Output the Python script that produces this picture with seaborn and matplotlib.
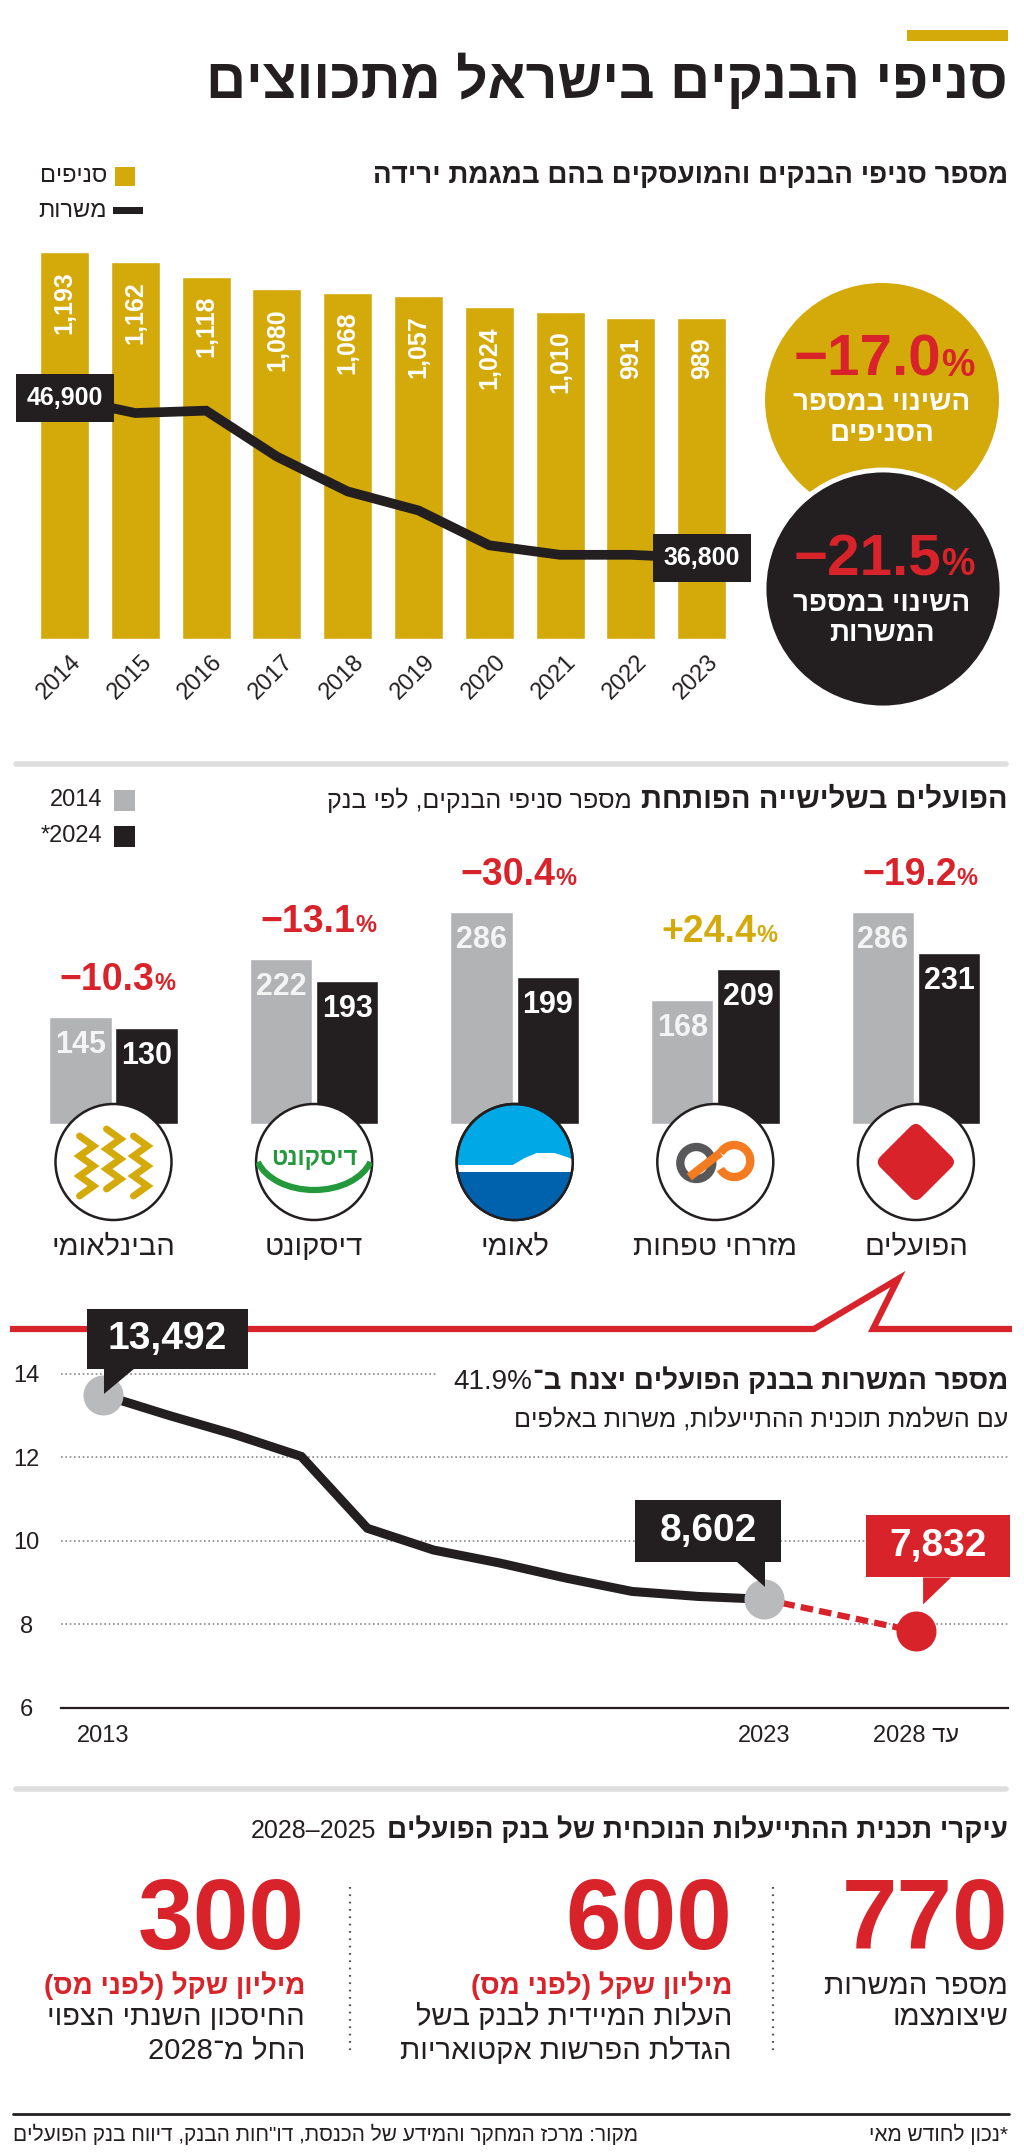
"""Bank branches in Israel are shrinking - infographic rebuilt with seaborn."""

import re

import matplotlib

matplotlib.use("Agg")
import matplotlib.pyplot as plt
import matplotlib.transforms as mtransforms
import numpy as np
import pandas as pd
import seaborn as sns
from matplotlib.offsetbox import AnnotationBbox, HPacker, TextArea
from matplotlib.patches import Arc, Circle, FancyBboxPatch, Polygon, Rectangle

W, H = 1024, 2155

# ---------------------------------------------------------------- data
YEARS = [2014, 2015, 2016, 2017, 2018, 2019, 2020, 2021, 2022, 2023]
BRANCHES = [1193, 1162, 1118, 1080, 1068, 1057, 1024, 1010, 991, 989]
EMPLOYEES = [46900, 45950, 46100, 43200, 41000, 39800, 37600, 37000, 37000, 36800]
BRANCH_CHANGE = "−17.0"
EMPLOYEE_CHANGE = "−21.5"

BANKS = ["הבינלאומי", "דיסקונט", "לאומי", "מזרחי טפחות", "הפועלים"]
BRANCHES_2014 = [145, 222, 286, 168, 286]
BRANCHES_2024 = [130, 193, 199, 209, 231]

POALIM_YEARS = [2013, 2014, 2015, 2016, 2017, 2018, 2019, 2020, 2021, 2022, 2023]
POALIM_STAFF = [13.492, 13.0, 12.54, 12.02, 10.30, 9.78, 9.47, 9.11, 8.79, 8.67, 8.602]
POALIM_TARGET = 7.832
TARGET_POS = 2025.3  # "until 2028" sits on a compressed stretch of the axis
POALIM_DROP = "41.9%"

PLAN_NUMBERS = ["770", "600", "300"]
PLAN_UNITS = ["", "מיליון שקל (לפני מס)", "מיליון שקל (לפני מס)"]
PLAN_TEXT = [
    ["מספר המשרות", "שיצומצמו"],
    ["העלות המיידית לבנק בשל", "הגדלת הפרשות אקטואריות"],
    ["החיסכון השנתי הצפוי", "החל מ־2028"],
]

# ---------------------------------------------------------------- style
GOLD = "#d4a90a"
BLACK = "#231f20"
RED = "#d8232a"
GRAY_BAR = "#b2b3b5"
GRAY_DOT = "#b9babc"
RULE = "#dedede"

sns.set_theme(style="white")
HEB = ["Liberation Sans", "DejaVu Sans"]
NUM = ["Liberation Sans Narrow", "Liberation Sans", "DejaVu Sans"]
plt.rcParams["font.family"] = HEB

LTR = re.compile(r"[0-9.,%]+")


def rtl(text):
    """Visual order for right-to-left text (matplotlib has no bidi)."""
    flipped = LTR.sub(lambda m: m.group(0)[::-1], text[::-1])
    return flipped.translate(str.maketrans("()", ")("))


fig = plt.figure(figsize=(W / 100, H / 100), dpi=100)
page = fig.add_axes([0, 0, 1, 1], zorder=5)
page.set_xlim(0, W)
page.set_ylim(H, 0)
page.axis("off")


def box(left, top, right, bottom):
    return [left / W, 1 - bottom / H, (right - left) / W, (bottom - top) / H]


def to_page(ax, x, y):
    px, py = ax.transData.transform((x, y))
    return px, H - py


def say(x, y, s, size, weight="normal", color=BLACK, ha="right", va="center", family=HEB, **kw):
    return page.text(x, y, s, fontsize=size, fontweight=weight, color=color,
                     ha=ha, va=va, family=family, zorder=6, **kw)


def pieces(x, y, parts, align=(1.0, 0.5), sep=0):
    kids = [TextArea(s, textprops=dict(fontsize=size, fontweight=weight, color=color, family=family))
            for s, size, weight, color, family in parts]
    pack = HPacker(children=kids, align="baseline", pad=0, sep=sep)
    page.add_artist(AnnotationBbox(pack, (x, y), xycoords="data", frameon=False,
                                   box_alignment=align, pad=0, zorder=6))


def rule(y):
    page.plot([16, 1006], [y, y], color=RULE, lw=4, solid_capstyle="round", zorder=1)


# ---------------------------------------------------------------- header
page.add_patch(Rectangle((907, 30), 101, 11, fc=GOLD, ec="none"))
say(1008, 82, rtl("סניפי הבנקים בישראל מתכווצים"), 40, "bold")

say(1008, 176, rtl("מספר סניפי הבנקים והמועסקים בהם במגמת ירידה"), 20, "bold")
page.add_patch(Rectangle((115, 167), 20, 19, fc=GOLD, ec="none"))
say(107, 176, rtl("סניפים"), 17)
page.add_patch(Rectangle((113, 207), 30, 7, fc=BLACK, ec="none"))
say(107, 211, rtl("משרות"), 17)

# ---------------------------------------------------------------- branches + employees
ax1 = fig.add_axes(box(29.1, 240, 737.1, 639))
df_branches = pd.DataFrame({"year": YEARS, "branches": BRANCHES, "employees": EMPLOYEES})
sns.barplot(data=df_branches, x="year", y="branches", color=GOLD, saturation=1, width=0.69, ax=ax1)
ax1.set_xlim(-0.5, len(YEARS) - 0.5)
ax1.set_ylim(0, 1231)
ax1.axis("off")

value_tf = mtransforms.offset_copy(ax1.transData, fig=fig, y=-19, units="dots")
year_tf = mtransforms.offset_copy(ax1.transData, fig=fig, x=13, y=-20, units="dots")
for i, (year, value) in enumerate(zip(YEARS, BRANCHES)):
    ax1.text(i, value, f"{value:,}", transform=value_tf, rotation=90, ha="center", va="top",
             color="white", fontsize=18, fontweight="bold", family=NUM)
    ax1.text(i, 0, str(year), transform=year_tf, rotation=45, rotation_mode="anchor",
             ha="right", va="center", fontsize=17, family=NUM, color=BLACK, clip_on=False)

ax1b = ax1.twinx()
sns.lineplot(x=np.arange(len(YEARS)), y=df_branches["employees"], color=BLACK, lw=7,
             solid_joinstyle="miter", ax=ax1b)
ax1b.set_xlim(-0.5, len(YEARS) - 0.5)
ax1b.set_ylim(31685, 56874)
ax1b.axis("off")

for i in (0, len(YEARS) - 1):
    px, py = to_page(ax1b, i, EMPLOYEES[i])
    page.add_patch(Rectangle((px - 49, py - 24), 98, 48, fc=BLACK, ec="none", zorder=4))
    say(px, py, f"{EMPLOYEES[i]:,}", 18, "bold", "white", ha="center", family=NUM)

page.add_patch(Circle((882, 400), 117, fc=GOLD, ec="none", zorder=2))
page.add_patch(Circle((883, 589), 119, fc=BLACK, ec="white", lw=3.5, zorder=3))
pieces(884, 361, [(BRANCH_CHANGE, 42, "bold", RED, NUM), ("%", 27, "bold", RED, NUM)], align=(0.5, 0.5))
say(882, 403, rtl("השינוי במספר"), 20, "bold", "white", ha="center")
say(882, 434, rtl("הסניפים"), 20, "bold", "white", ha="center")
pieces(884, 560, [(EMPLOYEE_CHANGE, 42, "bold", RED, NUM), ("%", 27, "bold", RED, NUM)], align=(0.5, 0.5))
say(882, 604, rtl("השינוי במספר"), 20, "bold", "white", ha="center")
say(882, 634, rtl("המשרות"), 20, "bold", "white", ha="center")

rule(764)

# ---------------------------------------------------------------- branches per bank
pieces(1008, 800, [(rtl("מספר סניפי הבנקים, לפי בנק"), 18, "normal", BLACK, HEB),
                   (rtl("הפועלים בשלישייה הפותחת"), 21, "bold", BLACK, HEB)], sep=7)
page.add_patch(Rectangle((114, 790), 21, 21, fc=GRAY_BAR, ec="none"))
say(102, 800, "2014", 17, family=NUM)
page.add_patch(Rectangle((114, 826), 21, 21, fc=BLACK, ec="none"))
say(102, 836, "*2024", 17, family=NUM)

ax2 = fig.add_axes(box(13.2, 840, 1016.2, 1124))
df_banks = pd.DataFrame({
    "bank": BANKS * 2,
    "year": ["2014"] * len(BANKS) + ["2024"] * len(BANKS),
    "branches": BRANCHES_2014 + BRANCHES_2024,
})
sns.barplot(data=df_banks, x="bank", y="branches", hue="year", hue_order=["2014", "2024"],
            palette=[GRAY_BAR, BLACK], saturation=1, width=0.66, gap=0.06, legend=False, ax=ax2)
ax2.set_xlim(-0.5, len(BANKS) - 0.5)
ax2.set_ylim(0, 284 / 0.741)
ax2.axis("off")

label_tf = mtransforms.offset_copy(ax2.transData, fig=fig, y=-28, units="dots")
for container, values, color in zip(ax2.containers, (BRANCHES_2014, BRANCHES_2024), ("#f4f4f4", "white")):
    for bar, value in zip(container, values):
        ax2.text(bar.get_x() + bar.get_width() / 2, value, str(value), transform=label_tf,
                 ha="center", va="center", color=color, fontsize=22, fontweight="bold", family=NUM)

for i, (old, new) in enumerate(zip(BRANCHES_2014, BRANCHES_2024)):
    change = (new - old) / old * 100
    text = f"{change:+.1f}".replace("-", "−")
    px, py = to_page(ax2, i, max(old, new))
    color = GOLD if change > 0 else RED
    pieces(px + 4, py - 37, [(text, 27, "bold", color, NUM), ("%", 17, "bold", color, NUM)], align=(0.5, 0.5))


def logo_ring(cx, cy, fc="white"):
    ring = Circle((cx, cy), 58, fc=fc, ec=BLACK, lw=1.8, zorder=3)
    page.add_patch(ring)
    return ring


def draw_binleumi(cx, cy):
    ring = logo_ring(cx, cy)
    for dx, dy in ((-27, 4), (0, -3), (27, 4)):
        xs = [cx + dx - 7, cx + dx + 7] * 3 + [cx + dx - 7]
        ys = [cy + dy - 30 + 10 * k for k in range(7)]
        line, = page.plot(xs, ys, color=GOLD, lw=5, solid_joinstyle="miter", zorder=4)
        line.set_clip_path(ring)


def draw_discount(cx, cy):
    ring = logo_ring(cx, cy)
    say(cx, cy - 3, rtl("דיסקונט"), 17, "bold", "#23993b", ha="center")
    arc = Arc((cx, cy - 12), 118, 80, theta1=12, theta2=168, color="#23993b", lw=4.5, zorder=4)
    page.add_patch(arc)
    arc.set_clip_path(ring)


def draw_leumi(cx, cy):
    ring = logo_ring(cx, cy, fc="#00a9e6")
    sea = Rectangle((cx - 60, cy + 10), 120, 60, fc="#0061ad", ec="none", zorder=4)
    wave = Polygon([(cx - 60, cy + 3), (cx - 2, cy + 3), (cx + 10, cy - 4), (cx + 22, cy - 9),
                    (cx + 40, cy - 9), (cx + 55, cy - 4), (cx + 62, cy), (cx + 62, cy + 10),
                    (cx - 60, cy + 10)], fc="white", ec="none", zorder=4)
    for patch in (sea, wave):
        page.add_patch(patch)
        patch.set_clip_path(ring)
    page.add_patch(Circle((cx, cy), 58, fc="none", ec=BLACK, lw=1.8, zorder=5))


def draw_mizrahi(cx, cy):
    logo_ring(cx, cy)
    page.add_patch(Circle((cx - 19, cy + 1), 16, fc="none", ec="#58585a", lw=6, zorder=4))
    page.add_patch(Arc((cx + 19, cy - 1), 32, 32, theta1=-150, theta2=150, ec="#f47b20", lw=6, zorder=5))
    page.plot([cx - 26, cx + 5], [cy + 15, cy - 9], color="#f47b20", lw=6, solid_capstyle="butt", zorder=5)


def draw_poalim(cx, cy):
    logo_ring(cx, cy)
    tf = mtransforms.Affine2D().rotate_deg(45).translate(cx, cy) + page.transData
    page.add_patch(FancyBboxPatch((-29, -29), 58, 58, boxstyle="round,pad=0,rounding_size=8",
                                  fc=RED, ec="none", zorder=4, transform=tf))


for i, (name, draw) in enumerate(zip(BANKS, (draw_binleumi, draw_discount, draw_leumi,
                                              draw_mizrahi, draw_poalim))):
    cx, _ = to_page(ax2, i, 0)
    draw(cx, 1162)
    say(cx, 1247, rtl(name), 21, ha="center")

# ---------------------------------------------------------------- Hapoalim staff
page.plot([10, 814, 898, 873, 1012], [1329, 1329, 1279, 1329, 1329], color=RED, lw=4.5,
          solid_joinstyle="miter", solid_capstyle="butt", zorder=1)

ax3 = fig.add_axes(box(61, 1311, 1008, 1708))
sns.lineplot(x=POALIM_YEARS, y=POALIM_STAFF, color=BLACK, lw=6.5, solid_joinstyle="miter", ax=ax3)
ax3.plot([POALIM_YEARS[-1], TARGET_POS], [POALIM_STAFF[-1], POALIM_TARGET], color=RED, lw=4.5,
         ls=(0, (2, 1)), zorder=3)
sns.scatterplot(x=[POALIM_YEARS[0], POALIM_YEARS[-1]], y=[POALIM_STAFF[0], POALIM_STAFF[-1]],
                s=830, color=GRAY_DOT, linewidth=0, zorder=4, ax=ax3)
sns.scatterplot(x=[TARGET_POS], y=[POALIM_TARGET], s=830, color=RED, linewidth=0, zorder=4, ax=ax3)
ax3.set_xlim(2012.365, 2026.69)
ax3.set_ylim(6, 15.5)
ax3.set_yticks([6, 8, 10, 12, 14])
ax3.set_yticklabels(["6", "8", "10", "12", "14"], family=NUM, fontsize=17)
ax3.set_xticks([POALIM_YEARS[0], POALIM_YEARS[-1], TARGET_POS])
ax3.set_xticklabels([str(POALIM_YEARS[0]), str(POALIM_YEARS[-1]), rtl("עד 2028")], family=NUM, fontsize=17)
for t in ax3.get_yticklabels():
    t.set_horizontalalignment("center")
ax3.tick_params(axis="y", length=0, pad=25, colors=BLACK)
ax3.tick_params(axis="x", direction="inout", length=13, width=1.4, pad=6, colors=BLACK)
ax3.yaxis.grid(True, color="#8a8a8a", lw=1.2, ls=(0, (1, 1.6)))
ax3.xaxis.grid(False)
ax3.set_xlabel("")
ax3.set_ylabel("")
for side in ("top", "left", "right"):
    ax3.spines[side].set_visible(False)
ax3.spines["bottom"].set_color(BLACK)
ax3.spines["bottom"].set_linewidth(1.6)
ax3.patch.set_alpha(0)

page.add_patch(Rectangle((436, 1362), 574, 38, fc="white", ec="none", zorder=0.5))
pieces(1008, 1381, [(POALIM_DROP, 20, "normal", BLACK, NUM),
                    (rtl("מספר המשרות בבנק הפועלים יצנח ב־"), 20, "bold", BLACK, HEB)])
say(1008, 1419, rtl("עם השלמת תוכנית ההתייעלות, משרות באלפים"), 18)

callouts = [
    (POALIM_YEARS[0], POALIM_STAFF[0], BLACK, (-16, -86, 161, 60), [(1, -26), (31, -26), (1, -1)]),
    (POALIM_YEARS[-1], POALIM_STAFF[-1], BLACK, (-129, -99, 146, 62), [(-27, -37), (1, -37), (1, -12)]),
    (TARGET_POS, POALIM_TARGET, RED, (-50, -116, 144, 62), [(7, -54), (35, -54), (7, -27)]),
]
for x, value, color, (dx, dy, bw, bh), tip in callouts:
    px, py = to_page(ax3, x, value)
    page.add_patch(Rectangle((px + dx, py + dy), bw, bh, fc=color, ec="none", zorder=4))
    page.add_patch(Polygon([(px + a, py + b) for a, b in tip], fc=color, ec="none", zorder=4))
    say(px + dx + bw / 2, py + dy + bh / 2, f"{value * 1000:,.0f}", 28, "bold", "white",
        ha="center", family=NUM)

rule(1789)

# ---------------------------------------------------------------- efficiency plan
pieces(1008, 1830, [(rtl("2025–2028"), 18, "normal", BLACK, NUM),
                    (rtl("עיקרי תכנית ההתייעלות הנוכחית של בנק הפועלים"), 20, "bold", BLACK, HEB)], sep=8)
for x in (350, 773):
    page.plot([x, x], [1887, 2055], color="#555555", lw=1.6, ls=(0, (0.8, 2.5)), zorder=1)

col_right = [1008, 732, 305]
for right, number, unit, lines in zip(col_right, PLAN_NUMBERS, PLAN_UNITS, PLAN_TEXT):
    say(right, 1949, number, 72, "bold", RED, va="baseline", family=NUM)
    rows = [1986, 2017] if not unit else [2017, 2051]
    if unit:
        say(right, 1986, rtl(unit), 20, "bold", RED)
    for y, line in zip(rows, lines):
        say(right, y, rtl(line), 21)

page.plot([13, 1009], [2114, 2114], color=BLACK, lw=2, zorder=1)
say(1008, 2134, rtl("*נכון לחודש מאי"), 15)
say(13, 2134, rtl('מקור: מרכז המחקר והמידע של הכנסת, דו"חות הבנק, דיווח בנק הפועלים'), 15, ha="left")

fig.savefig("out.png", dpi=100, facecolor="white")
